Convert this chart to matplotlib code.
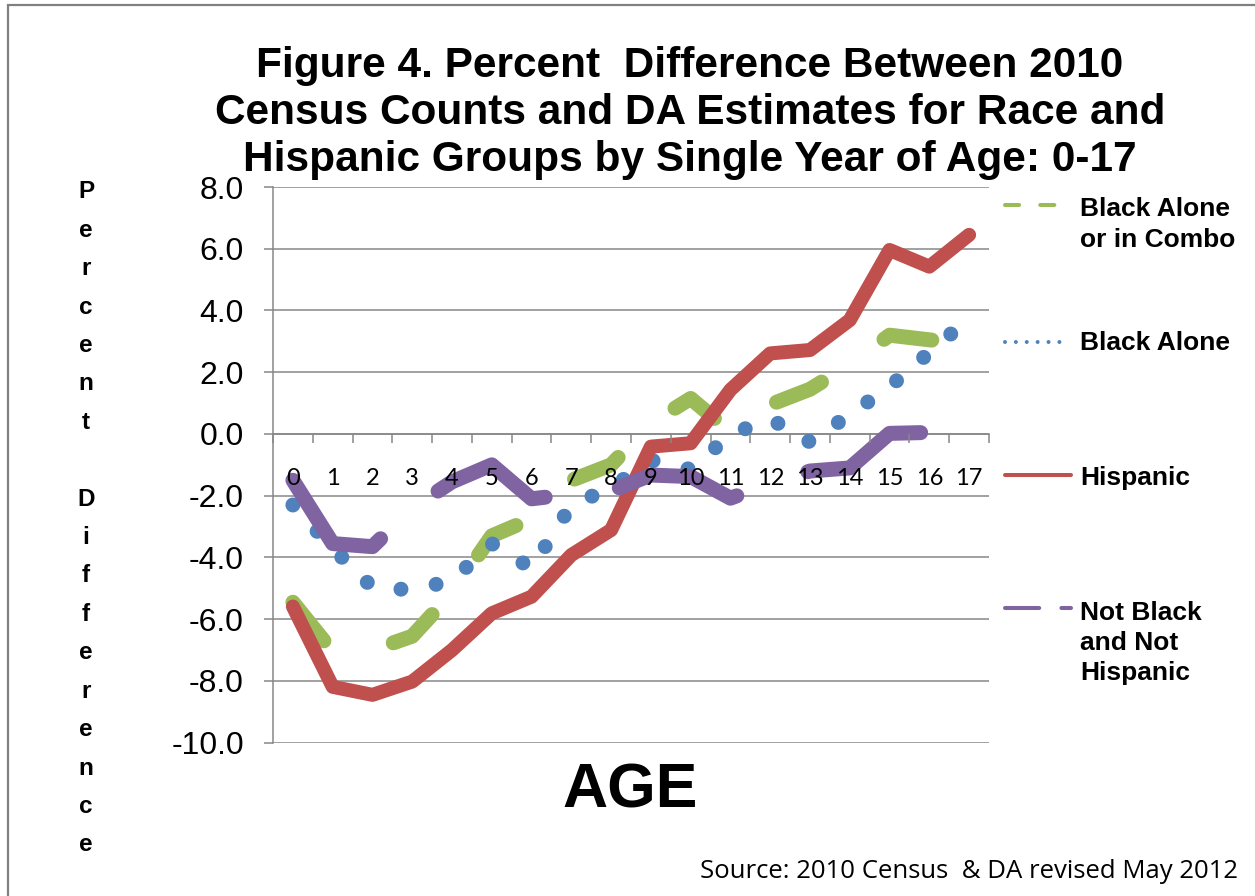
import matplotlib
matplotlib.use('Agg')
import matplotlib.pyplot as plt
from matplotlib.lines import Line2D
from matplotlib.patches import Rectangle

# Percent difference between 2010 census counts and DA estimates, ages 0-17
ages = list(range(18))
black_combo = [-5.45, -7.05, -7.0, -6.55, -5.15, -3.3, -2.75, -1.5, -1.0,
               0.35, 1.15, 0.07, 0.95, 1.45, 2.25, 3.2, 3.05, 2.9]
black_alone = [-2.3, -3.7, -4.97, -5.05, -4.75, -3.55, -4.35, -2.3, -1.75,
               -0.85, -1.15, -0.02, 0.49, -0.26, 0.63, 1.53, 2.64, 3.75]
hispanic = [-5.59, -8.19, -8.45, -8.02, -7.0, -5.81, -5.27, -3.92, -3.11,
            -0.41, -0.30, 1.43, 2.61, 2.72, 3.69, 5.96, 5.42, 6.45]
not_black_not_hisp = [-1.5, -3.55, -3.65, -2.4, -1.55, -1.0, -2.1, -1.95, -1.85,
                      -1.33, -1.38, -2.08, -1.6, -1.2, -1.1, 0.02, 0.05, 0.3]

series_names = ['Black Alone\nor in Combo', 'Black Alone', 'Hispanic',
                'Not Black\nand Not\nHispanic']
y_ticks = [8.0, 6.0, 4.0, 2.0, 0.0, -2.0, -4.0, -6.0, -8.0, -10.0]
title_lines = ['Figure 4. Percent  Difference Between 2010',
               'Census Counts and DA Estimates for Race and',
               'Hispanic Groups by Single Year of Age: 0-17']
ylabel = 'Percent Difference'
source = 'Source: 2010 Census  & DA revised May 2012'

GREEN = '#9BBB59'
BLUE = '#4F81BD'
RED = '#C0504D'
PURPLE = '#8064A2'
GRID = '#878787'
ARIAL = 'Liberation Sans'
CALIBRI = 'Lato'

W, H = 1255, 896
fig = plt.figure(figsize=(W / 100, H / 100), dpi=100)


def fx(x):
    return x / W


def fy(y):
    return 1 - y / H


ax = fig.add_axes([fx(273), fy(742.7), fx(989) - fx(273), fy(187) - fy(742.7)])
ax.set_xlim(-0.5, 17.5)
ax.set_ylim(-10, 8)

# plot lines (px widths converted to points)
round_style = dict(dash_capstyle='round', dash_joinstyle='round',
                   solid_capstyle='round', solid_joinstyle='round', clip_on=False)
ax.plot(ages, black_combo, color=GREEN, lw=10.8, linestyle=(0, (3.3, 5.05)),
        zorder=3, **round_style)
ax.plot(ages, black_alone, color=BLUE, lw=10.8, linestyle=(0, (0.001, 2.385)),
        zorder=4, **round_style)
ax.plot(ages, hispanic, color=RED, lw=10.1, zorder=5, **round_style)
ax.plot(ages, not_black_not_hisp, color=PURPLE, lw=10.8, linestyle=(0, (8.4, 5.0)),
        zorder=6, **round_style)

# axes look: gridlines, category axis crossing at zero
ax.set_yticks(y_ticks)
ax.set_yticklabels([f'{v:.1f}' for v in y_ticks])
ax.yaxis.grid(True, color=GRID, lw=1.1)
ax.tick_params(axis='y', direction='out', length=6.5, width=1.1, color=GRID, pad=14.4,
               labelsize=23, labelfontfamily=ARIAL)
for lbl in ax.get_yticklabels():
    lbl.set_va('center_baseline')

ax.set_xticks([k - 0.5 for k in range(19)])
ax.set_xticklabels([])
ax.set_xticks(ages, minor=True)
ax.set_xticklabels([str(a) for a in ages], minor=True)
ax.tick_params(axis='x', which='major', direction='out', length=6.5, width=1.1, color=GRID)
ax.tick_params(axis='x', which='minor', length=0, pad=24.5,
               labelsize=17, labelfontfamily=CALIBRI)

ax.spines['bottom'].set_position(('data', 0))
ax.spines['bottom'].set_color(GRID)
ax.spines['bottom'].set_linewidth(1.1)
ax.spines['left'].set_color(GRID)
ax.spines['left'].set_linewidth(1.1)
ax.spines['top'].set_visible(False)
ax.spines['right'].set_visible(False)
ax.set_axisbelow(True)
# age labels sit on top of the lines
ax.xaxis.set_zorder(10)

# title
for line, base in zip(title_lines, [77, 124, 171]):
    fig.text(fx(690), fy(base), line, ha='center', va='baseline',
             fontsize=30.5, fontweight='bold', family=ARIAL)

# stacked y-axis label
for i, ch in enumerate(ylabel):
    if ch != ' ':
        fig.text(fx(86), fy(198.5 + 38.4 * i), ch, ha='center', va='baseline',
                 fontsize=17.5, fontweight='bold', family=ARIAL)

fig.text(fx(630), fy(807), 'AGE', ha='center', va='baseline',
         fontsize=45, fontweight='bold', family=ARIAL)
fig.text(fx(1238), fy(878), source, ha='right', va='baseline',
         fontsize=18.5, family='Open Sans')

# legend drawn beside the plot
legend_items = [
    (GREEN, (0, (3.5, 5.25)), 1058, 205, [216.5, 246.7]),
    (BLUE, (0, (0.001, 2.7)), 1070, 341.7, [350]),
    (RED, '-', 1073, 475, [485]),
    (PURPLE, (0, (8.5, 5.5)), 1073, 608, [620, 650, 680]),
]
for (color, ls, x1, y, bases), name in zip(legend_items, series_names):
    fig.add_artist(Line2D([fx(1005), fx(x1 - 2)], [fy(y), fy(y)], transform=fig.transFigure,
                          color=color, lw=2.9, linestyle=ls, dash_capstyle='round',
                          solid_capstyle='round'))
    for text_line, base in zip(name.split('\n'), bases):
        fig.text(fx(1080), fy(base), text_line, ha='left', va='baseline',
                 fontsize=19, fontweight='bold', family=ARIAL)

# outer chart border
fig.add_artist(Rectangle((fx(8), fy(1000)), fx(1400), fy(5) - fy(1000),
                         transform=fig.transFigure, fill=False,
                         edgecolor='#808080', lw=1.6))

fig.savefig('out.png', dpi=100)
